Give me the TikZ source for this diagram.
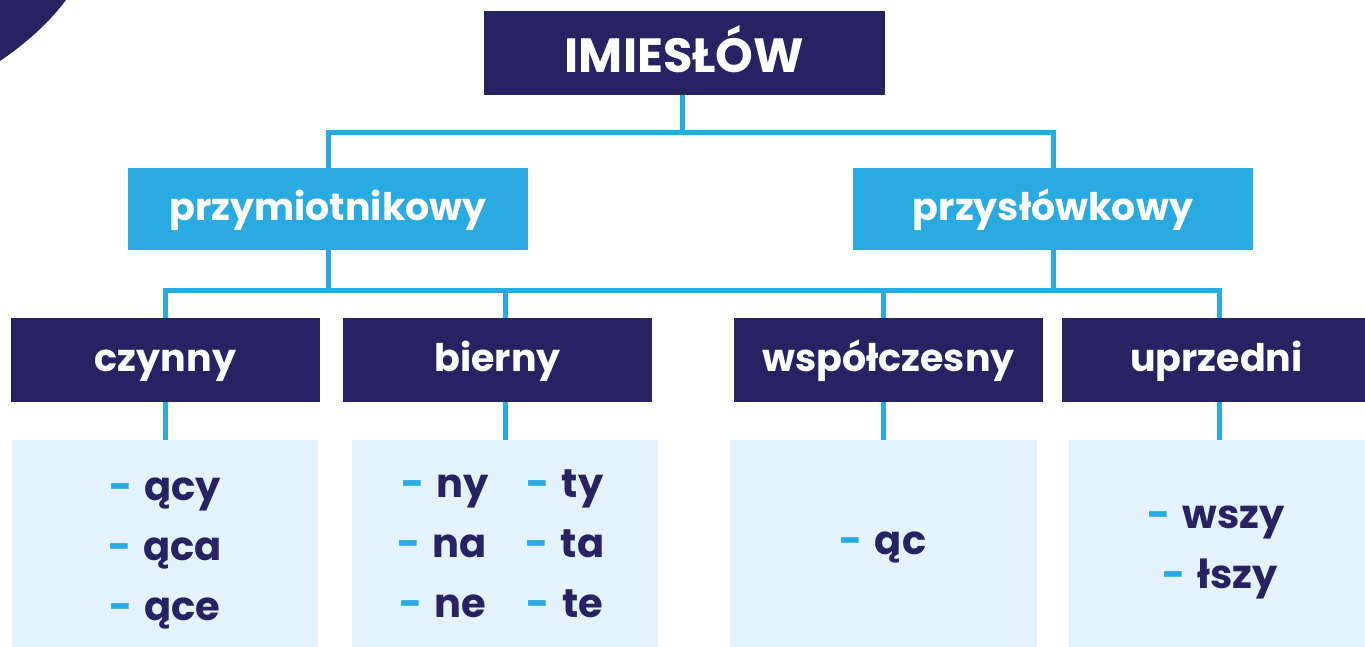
\documentclass[tikz,border=0pt]{standalone}
\usepackage{fontspec}
\setmainfont{Poppins}
\definecolor{navy}{HTML}{272262}
\definecolor{cy}{HTML}{29ABE2}
\definecolor{lightb}{HTML}{E3F2FB}
\newcommand{\dsh}{{\color{cy}-}\hspace{0.3em}}
\begin{document}
\begin{tikzpicture}[x=1pt,y=-1pt,
  dark/.style={fill=navy,text=white,inner sep=0pt,text height=30pt,text depth=8pt,font=\bfseries\fontsize{38}{46}\selectfont},
  mid/.style={fill=cy,text=white,inner sep=0pt,text height=30pt,text depth=8pt,font=\bfseries\fontsize{38}{46}\selectfont},
  lbox/.style={fill=lightb,inner sep=0pt},
  suf/.style={text=navy,inner sep=0pt,anchor=base,font=\bfseries\fontsize{40}{48}\selectfont},
  conn/.style={draw=cy,line width=5pt}]
\useasboundingbox (0,0) rectangle (1365,646);
\fill[navy] (0,0) -- (0,61) .. controls (25,44) and (48,24) .. (66,0) -- cycle;
% boxes
\node[dark,minimum width=401pt,minimum height=84pt,text height=38pt,text depth=0pt,font=\bfseries\fontsize{48}{56}\selectfont] (top) at (684.5,53) {IMIESŁÓW};
\node[mid,minimum width=400pt,minimum height=82pt] (przym) at (328,209) {przymiotnikowy};
\node[mid,minimum width=400pt,minimum height=82pt] (przysl) at (1053,209) {przysłówkowy};
\node[dark,minimum width=309pt,minimum height=84pt] (czyn) at (165.5,360) {czynny};
\node[dark,minimum width=309pt,minimum height=84pt] (bier) at (497.5,360) {bierny};
\node[dark,minimum width=309pt,minimum height=84pt] (wspol) at (888.5,360) {współczesny};
\node[dark,minimum width=309pt,minimum height=84pt] (uprz) at (1216.5,360) {uprzedni};
\node[lbox,minimum width=306pt,minimum height=210pt] (czynL) at (165,545) {};
\node[lbox,minimum width=306pt,minimum height=210pt] (bierL) at (505,545) {};
\node[lbox,minimum width=307pt,minimum height=210pt] (wspolL) at (883.5,545) {};
\node[lbox,minimum width=300pt,minimum height=210pt] (uprzL) at (1219,545) {};
% bus coordinates
\coordinate (bus1) at (682,132);
\coordinate (bus2) at (682,290);
% connectors
\draw[conn] (bus1 |- top.south) -- (bus1);
\draw[conn] (przym.north) |- (bus1) -| (przysl.north);
\draw[conn] (przym.south) -- (przym.south |- bus2);
\draw[conn] (przysl.south) -- (przysl.south |- bus2);
\draw[conn] (czynL.north |- czyn.north) -- (czynL.north |- bus2) -- (uprzL.north |- bus2) -- (uprzL.north |- uprz.north);
\draw[conn] (bierL.north |- bier.north) -- (bierL.north |- bus2);
\draw[conn] (wspolL.north |- wspol.north) -- (wspolL.north |- bus2);
\draw[conn] (czynL.north |- czyn.south) -- (czynL.north);
\draw[conn] (bierL.north |- bier.south) -- (bierL.north);
\draw[conn] (wspolL.north |- wspol.south) -- (wspolL.north);
\draw[conn] (uprzL.north |- uprz.south) -- (uprzL.north);
% suffixes
\node[suf] (c1) at (165,500) {\dsh ący};
\node[suf] (c2) at (165,560) {\dsh ąca};
\node[suf] (c3) at (165,620) {\dsh ące};
\node[suf] (b1) at (445,497) {\dsh ny};
\node[suf] (b2) at (442,557) {\dsh na};
\node[suf] (b3) at (443,617) {\dsh ne};
\node[suf] (b4) at (565,497) {\dsh ty};
\node[suf] (b5) at (565,557) {\dsh ta};
\node[suf] (b6) at (565,617) {\dsh te};
\node[suf] (w1) at (883,554) {\dsh ąc};
\node[suf] (u1) at (1216,528) {\dsh wszy};
\node[suf] (u2) at (1220,588) {\dsh łszy};
\end{tikzpicture}
\end{document}
